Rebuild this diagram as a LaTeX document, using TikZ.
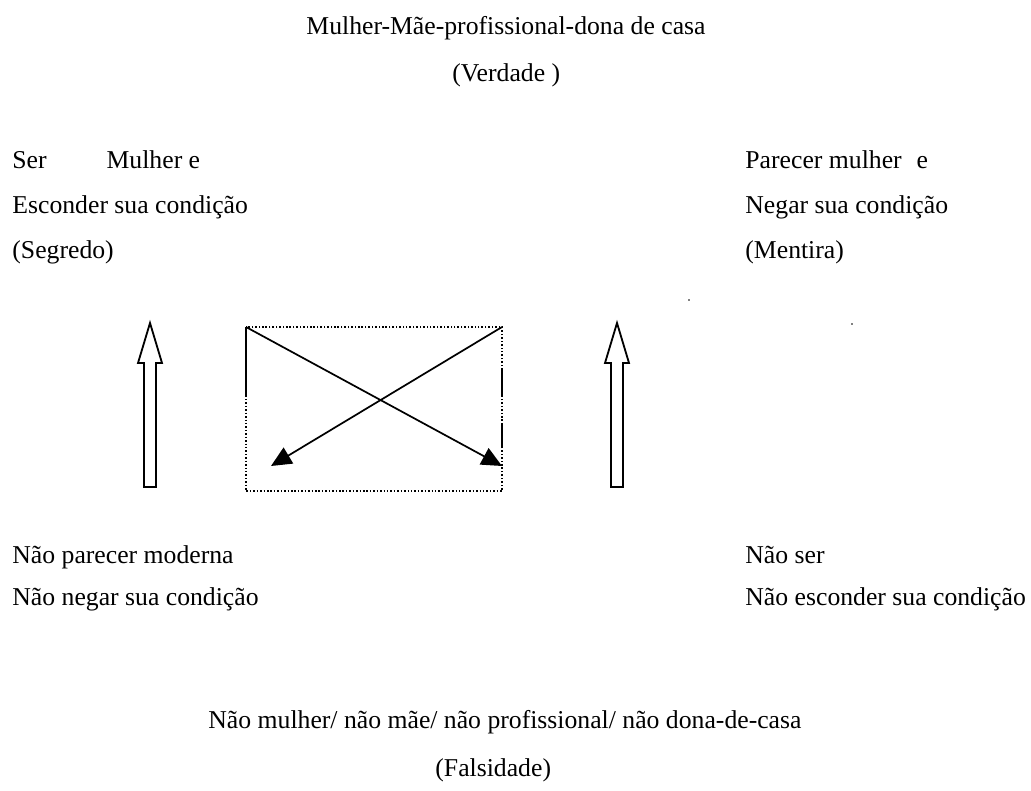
\documentclass[tikz,border=0pt]{standalone}
\usepackage{fontspec}
\setmainfont{Liberation Serif}
\usepackage{tikz}
\usetikzlibrary{arrows.meta}

\tikzset{
  lbl/.style={anchor=base west, inner sep=0pt, font=\fontsize{12}{14}\selectfont},
  hollow/.style={draw, line width=0.85pt, fill=white, line join=miter},
  dotbox/.style={line width=0.8pt, dash pattern=on 0.7pt off 0.9pt},
  cross/.style={line width=0.8pt, -{Triangle[length=9.5pt,width=8.6pt]}},
}

\begin{document}
\begin{tikzpicture}[x=0.4669pt, y=-0.4669pt]
		\useasboundingbox (0,0) rectangle (1031,791);
		% Verdade
		\node[lbl] (verdade1) at (306,35) {Mulher-Mãe-profissional-dona de casa};
		\node[lbl] (verdade2) at (452,82) {(Verdade )};
		% Segredo
		\node[lbl] (segredo1) at (12,169) {Ser\hspace{28pt}Mulher e};
		\node[lbl] (segredo2) at (12,214) {Esconder sua condição};
		\node[lbl] (segredo3) at (12,258) {(Segredo)};
		% Mentira
		\node[lbl] (mentira1) at (745,169) {Parecer mulher\hspace{7pt}e};
		\node[lbl] (mentira2) at (745,214) {Negar sua condição};
		\node[lbl] (mentira3) at (745,258) {(Mentira)};
		% Nao parecer / nao ser
		\node[lbl] (naoparecer1) at (12,563) {Não parecer moderna};
		\node[lbl] (naoparecer2) at (12,605) {Não negar sua condição};
		\node[lbl] (naoser1) at (745,563) {Não ser};
		\node[lbl] (naoser2) at (745,605) {Não esconder sua condição};
		% Falsidade
		\node[lbl] (falsidade1) at (208,728) {Não mulher/ não mãe/ não profissional/ não dona-de-casa};
		\node[lbl] (falsidade2) at (435,776) {(Falsidade)};
		% hollow arrows
		\foreach \cx in {150,617}
			\draw[hollow] (\cx-6,487) -- (\cx-6,363) -- (\cx-12,363) -- (\cx,323)
				-- (\cx+12,363) -- (\cx+6,363) -- (\cx+6,487) -- cycle;
		% dotted box
		\coordinate (boxnw) at (246,327);
		\coordinate (boxne) at (502,327);
		\coordinate (boxse) at (502,491);
		\draw[dotbox] (boxnw) rectangle (boxse);
		\draw[line width=0.8pt] (boxnw) -- (246,397);
		\draw[line width=0.8pt] (502,370) -- (502,397);
		\draw[line width=0.8pt] (502,423) -- (502,447);
		% crossing arrows
		\coordinate (tipse) at (502,466);
		\coordinate (tipsw) at (271,466);
		\draw[cross] (boxnw) -- (tipse);
		\draw[cross] (boxne) -- (tipsw);
		% stray dots
		\fill (689,300) circle (0.9);
		\fill (852,324) circle (0.9);
	\end{tikzpicture}
\end{document}
